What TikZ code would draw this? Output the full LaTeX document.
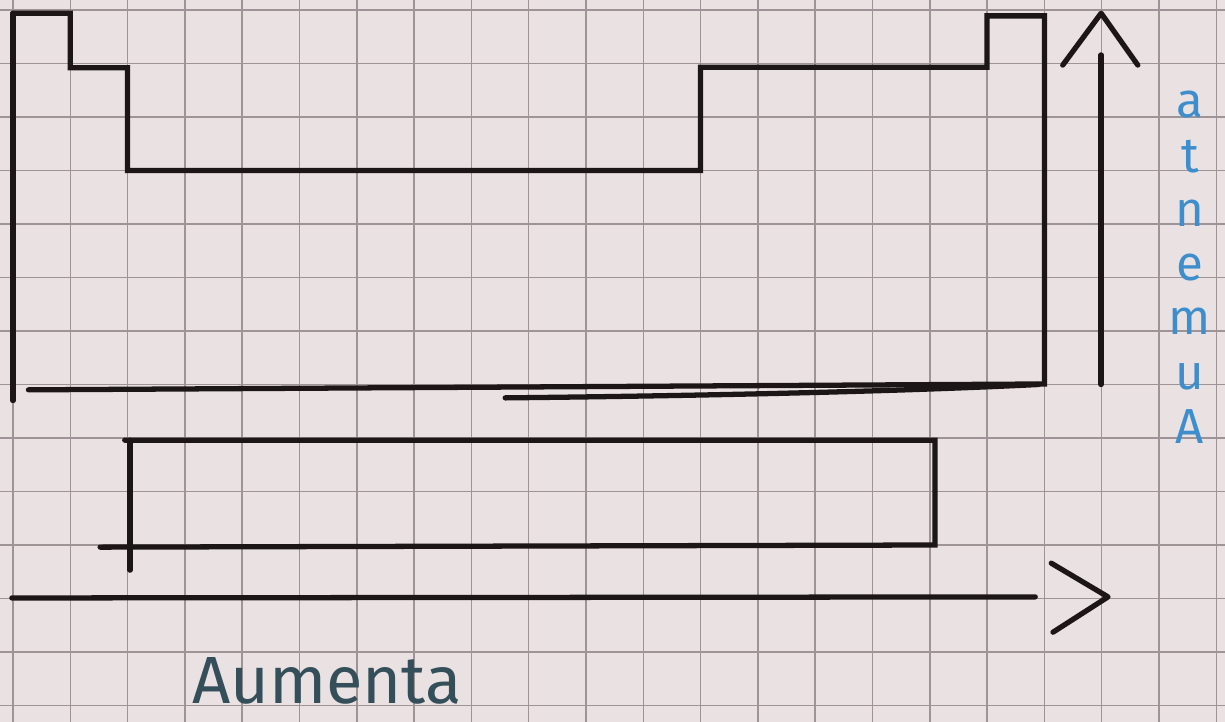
\documentclass[tikz,border=0pt]{standalone}
\usepackage{fontspec}
\newfontfamily\hand{Fira Sans}
\definecolor{paper}{RGB}{234,226,226}
\definecolor{gridc}{RGB}{158,148,152}
\definecolor{ink}{RGB}{28,22,22}
\definecolor{blueink}{RGB}{62,142,205}
\definecolor{slateink}{RGB}{52,78,90}
\begin{document}
\begin{tikzpicture}[x=1.146cm,y=-1.07cm,
  gridline/.style={draw=gridc,line width=0.9pt},
  pen/.style={draw=ink,line width=3pt,line cap=round,line join=miter},
  vlabel/.style={text=blueink,font=\hand\fontsize{28}{30.9}\selectfont,align=center,inner sep=0pt},
  hlabel/.style={text=slateink,font=\hand\fontsize{38}{38}\selectfont,anchor=base,inner sep=0pt}]
\fill[paper] (-0.2269,-0.1869) rectangle (21.152,13.308);
\useasboundingbox (-0.2269,-0.1869) rectangle (21.152,13.308);
% grid paper
\foreach \k in {0,...,21} \draw[gridline] (\k,-0.1869) -- (\k,13.308);
\foreach \j in {0,...,13} \draw[gridline] (-0.2269,\j) -- (21.152,\j);
% upper stepped outline
\draw[pen] (0,7.3) -- (0,0.06);
\draw[pen] (0,0.06) -- (1,0.06) -- (1,1.08) -- (2,1.08) -- (2,3) -- (12,3)
  -- (12,1.07) -- (17,1.07) -- (17,0.11) -- (18,0.11) -- (18,6.99) -- (0.27,7.1);
\draw[pen] (8.59,7.25) .. controls (13,7.2) and (16,7.1) .. (17.9,7.0);
% lower rectangle
\draw[pen] (1.95,8.04) -- (16.09,8.04) -- (16.09,10.0) -- (1.52,10.04);
\draw[pen] (2.04,8.04) -- (2.04,10.47);
% horizontal axis with open head
\coordinate (hx0) at (-0.02,10.99);
\coordinate (hx1) at (17.84,10.97);
\coordinate (hta) at (18.12,10.34);
\coordinate (htp) at (19.11,10.97);
\coordinate (htb) at (18.15,11.63);
\draw[pen] (hx0) -- (hx1);
\draw[pen,line join=round] (hta) -- (htp) -- (htb);
% vertical axis with open head
\coordinate (vy0) at (18.99,7.0);
\coordinate (vy1) at (18.99,0.84);
\coordinate (vta) at (18.32,1.03);
\coordinate (vtp) at (18.99,0.06);
\coordinate (vtb) at (19.63,1.03);
\draw[pen] (vy0) -- (vy1);
\draw[pen,line join=round] (vta) -- (vtp) -- (vtb);
% vertical label (letters stacked, read bottom to top)
\node[vlabel,anchor=south] (vl) at (20.54,8.11) {a\\t\\n\\e\\m\\u\\A};
% horizontal label
\node[hlabel] (hl) at (5.48,12.96) {Aumenta};
\end{tikzpicture}
\end{document}
